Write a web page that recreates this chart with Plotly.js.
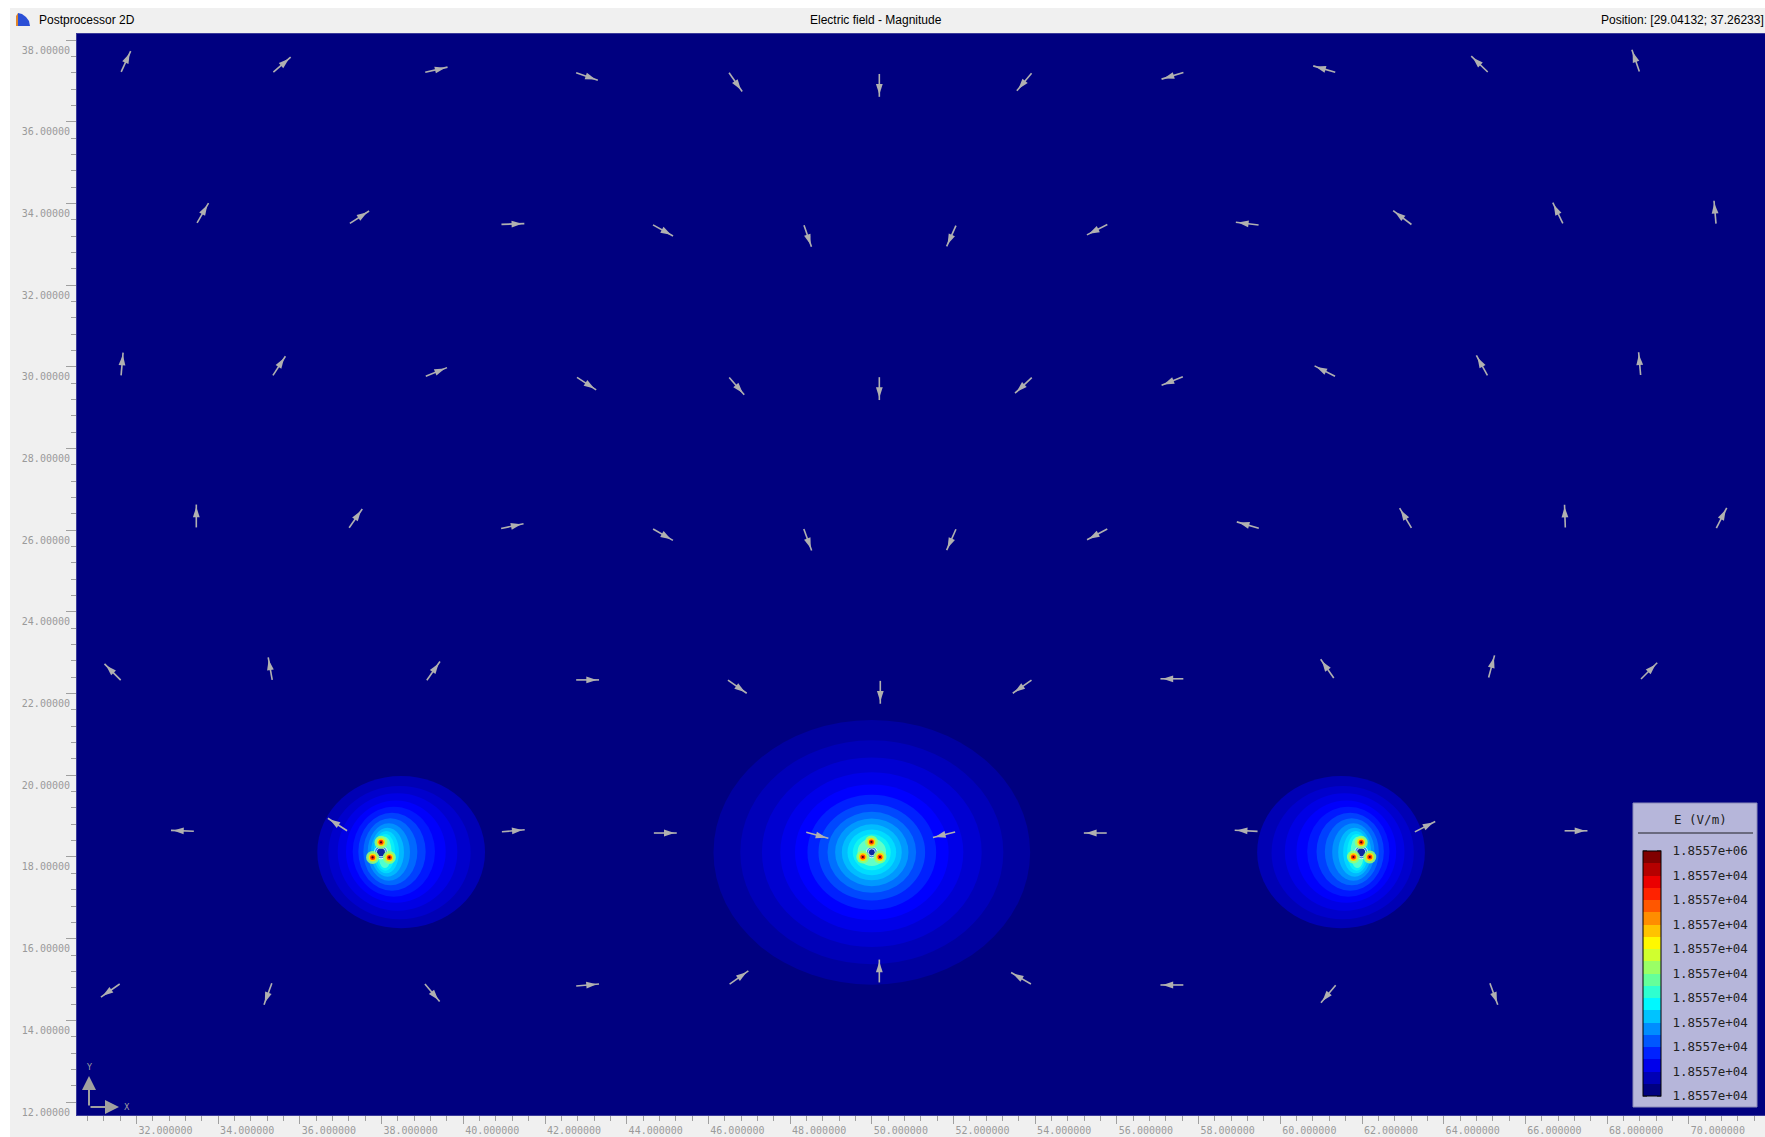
<!DOCTYPE html>
<html><head><meta charset="utf-8">
<script src="https://cdn.plot.ly/plotly-3.0.1.min.js"></script>
<style>html,body{margin:0;padding:0;background:#fff;}#chart{width:1765px;height:1137px;}</style>
</head><body><div id="chart"></div>
<script>
// ---------------- data ----------------
const headerLeft = 'Postprocessor 2D';
const headerTitle = 'Electric field - Magnitude';
const headerPosition = 'Position: [29.04132; 37.26233]';
const cursorX = 29.04132;
const cursorY = 37.26233;

// cable centres (three cables, three conductors each)
const cableX = [37.985, 50.0, 61.98];
const cableY = [18.115, 18.115, 18.115];
const condX = [37.985, 37.78, 38.19, 49.99, 49.78, 50.20, 61.98, 61.79, 62.19];
const condY = [18.36, 17.99, 17.99, 18.37, 18.0, 18.0, 18.36, 18.0, 18.0];

// field-magnitude band boundaries (ellipse extents, outermost first)
const leftBandX0 = [36.427, 36.696, 36.925, 37.129, 37.292, 37.430, 37.553, 37.659, 37.741, 37.806, 37.863, 37.912];
const leftBandX1 = [40.531, 40.180, 39.854, 39.569, 39.307, 39.079, 38.875, 38.695, 38.548, 38.426, 38.328, 38.246];
const sideBandY0 = [16.254, 16.474, 16.687, 16.882, 17.029, 17.176, 17.306, 17.420, 17.518, 17.600, 17.665, 17.731];
const sideBandY1 = [19.983, 19.738, 19.559, 19.380, 19.233, 19.085, 18.947, 18.824, 18.718, 18.637, 18.563, 18.498];
const rightBandX0 = [59.434, 59.785, 60.111, 60.396, 60.658, 60.886, 61.090, 61.270, 61.417, 61.539, 61.637, 61.719];
const rightBandX1 = [63.538, 63.269, 63.040, 62.836, 62.673, 62.535, 62.412, 62.306, 62.224, 62.159, 62.102, 62.053];
const midBandX0 = [46.124, 46.78, 47.31, 47.76, 48.12, 48.425, 48.694, 48.915, 49.102, 49.266, 49.404, 49.535, 49.649];
const midBandX1 = [53.876, 53.22, 52.69, 52.24, 51.88, 51.575, 51.306, 51.085, 50.898, 50.734, 50.596, 50.465, 50.351];
const midBandY0 = [14.875, 15.375, 15.795, 16.155, 16.455, 16.705, 16.935, 17.125, 17.285, 17.43, 17.555, 17.675, 17.78];
const midBandY1 = [21.355, 20.855, 20.435, 20.075, 19.775, 19.525, 19.295, 19.105, 18.945, 18.8, 18.675, 18.555, 18.45];
const sideBandColors = ['#0000b4','#0000cc','#0000e4','#0000fc','#0018ff','#0040ff','#0068ff','#0090ff','#00b8ff','#00d8ff','#08f0f8','#50ffd0'];
const midBandColors = ['#0000a0','#0000b8','#0000d0','#0000e8','#0000ff','#0020ff','#0048ff','#0070ff','#0098ff','#00bcff','#00dcff','#10f4f0','#60ffc8'];

// vector arrows: centre position and direction (degrees, counter-clockwise from +x)
const arrowX = [
 31.741, 35.562, 39.341, 43.028, 46.666, 50.184, 53.731, 57.361, 61.075, 64.876, 68.698,
 33.623, 37.459, 41.214, 44.889, 48.431, 51.946, 55.516, 59.190, 62.987, 66.793, 70.641,
 31.647, 35.493, 39.341, 43.018, 46.693, 50.184, 53.711, 57.354, 61.089, 64.935, 68.796,
 33.464, 37.366, 41.200, 44.889, 48.431, 51.946, 55.516, 59.204, 63.065, 66.967, 70.801,
 31.415, 35.273, 39.268, 43.043, 46.708, 50.208, 53.680, 57.346, 61.148, 65.172, 69.028,
 33.124, 36.920, 41.224, 44.945, 48.666, 51.768, 55.471, 59.163, 63.543, 67.239,
 31.359, 35.217, 39.241, 43.043, 46.749, 50.184, 53.653, 57.346, 61.175, 65.227
];
const arrowY = [
 37.474, 37.395, 37.273, 37.107, 36.967, 36.889, 36.974, 37.124, 37.290, 37.412, 37.496,
 33.765, 33.662, 33.496, 33.339, 33.202, 33.202, 33.356, 33.505, 33.652, 33.765, 33.785,
 30.069, 30.025, 29.875, 29.589, 29.528, 29.466, 29.545, 29.652, 29.895, 30.034, 30.078,
 26.348, 26.291, 26.100, 25.890, 25.767, 25.767, 25.897, 26.127, 26.299, 26.345, 26.299,
 22.529, 22.610, 22.556, 22.335, 22.169, 22.032, 22.169, 22.362, 22.610, 22.666, 22.556,
 18.641, 18.796, 18.641, 18.587, 18.531, 18.546, 18.587, 18.641, 18.742, 18.641,
 14.730, 14.646, 14.675, 14.867, 15.050, 15.209, 15.031, 14.867, 14.646, 14.646
];
const arrowDeg = [
 65.5, 41, 13, -19, -55, -90, -130, -163, 164, 136, 109,
 60, 33, 2, -29, -71, -114, -153, 173, 143, 116, 95,
 85, 57, 22, -33, -49, -90, -137, -158, 153, 119, 95,
 90, 55, 12, -30, -70, -114, -152, 164, 121, 92, 63,
 135, 100, 55, 0, -35, -90, -145, 180, 125, 75, 45,
 178, 147, 5, 0, -15, -166, 180, 177, 27, 0,
 -145, -110, -50, 5, 35, 90, 150, 180, -130, -70
];

// legend (scale) labels, bottom to top
const legendTitle = 'E (V/m)';
const legendTickVals = [0,1,2,3,4,5,6,7,8,9,10];
const legendTickText = ['1.8557e+04','1.8557e+04','1.8557e+04','1.8557e+04','1.8557e+04','1.8557e+04','1.8557e+04','1.8557e+04','1.8557e+04','1.8557e+04','1.8557e+06'];
const legendSteps = 20;

// ---------------- styling / helpers ----------------
const W = 1765, H = 1137, PL = 77, PT = 34, PW = 1688, PH = 1081;
const pxX = v => (v - PL) / PW;
const pxY = v => (PT + PH - v) / PH;
const ARROW_LEN = 0.56;
const arrowColor = '#b0b0b0';

function jet(t){
  const c = v => Math.round(255 * Math.max(0, Math.min(1, v)));
  return 'rgb(' + c(1.5 - Math.abs(4*t - 3)) + ',' + c(1.5 - Math.abs(4*t - 2)) + ',' + c(1.5 - Math.abs(4*t - 1)) + ')';
}
const stepScale = [];
for (let i = 0; i < legendSteps; i++) {
  const col = jet(i / (legendSteps - 1));
  stepScale.push([i / legendSteps, col]);
  stepScale.push([(i + 1) / legendSteps, col]);
}

function bandShapes(x0, x1, y0, y1, colors){
  return x0.map((v, i) => ({type:'circle', xref:'x', yref:'y', x0:v, x1:x1[i], y0:y0[i], y1:y1[i],
    fillcolor:colors[i], line:{width:0}, layer:'below'}));
}

// arrows
const lx = [], ly = [], hx = [], hy = [], hang = [];
arrowX.forEach((x, i) => {
  const a = arrowDeg[i] * Math.PI / 180, c = Math.cos(a), s = Math.sin(a), h = ARROW_LEN / 2;
  lx.push(x - h*c, x + h*c, null);
  ly.push(arrowY[i] - h*s, arrowY[i] + h*s, null);
  hx.push(x + 0.4*ARROW_LEN*c);
  hy.push(arrowY[i] + 0.4*ARROW_LEN*s);
  hang.push(90 - arrowDeg[i]);
});

const traces = [
  {type:'scatter', mode:'markers', x:cableX, y:cableY, hoverinfo:'skip',
   marker:{size:[13,11,13], color:'#1a5cff'}},
  {type:'scatter', mode:'markers', x:cableX, y:cableY, hoverinfo:'skip',
   marker:{size:[9,7,9], color:[0,0,0], colorscale:stepScale, cmin:0, cmax:10, showscale:true,
     colorbar:{x:pxX(1643), xanchor:'left', xpad:0, y:pxY(851), yanchor:'top', ypad:0,
       len:245, lenmode:'pixels', thickness:18, thicknessmode:'pixels',
       outlinecolor:'#000', outlinewidth:1, bgcolor:'rgba(0,0,0,0)', borderwidth:0,
       tickvals:legendTickVals, ticktext:legendTickText, ticks:'outside', ticklen:9, tickcolor:'rgba(0,0,0,0)',
       tickfont:{family:'DejaVu Sans Mono', size:12.5, color:'#222'}}}},
  {type:'scatter', mode:'markers', x:condX, y:condY, hoverinfo:'skip', marker:{size:13, color:'rgba(150,255,110,0.85)'}},
  {type:'scatter', mode:'markers', x:condX, y:condY, hoverinfo:'skip', marker:{size:8, color:'#ffdc00'}},
  {type:'scatter', mode:'markers', x:condX, y:condY, hoverinfo:'skip', marker:{size:5, color:'#ff3c00'}},
  {type:'scatter', mode:'markers', x:condX, y:condY, hoverinfo:'skip', marker:{size:2.2, color:'#400010'}},
  {type:'scatter', mode:'lines', x:lx, y:ly, hoverinfo:'skip', line:{color:arrowColor, width:1.6}},
  {type:'scatter', mode:'markers', x:hx, y:hy, hoverinfo:'skip',
   marker:{symbol:'arrow', size:11, angle:hang, color:arrowColor, line:{width:0}}},
  {type:'scatter', mode:'markers', x:[30.47, cursorX], y:[cursorY, 11.545], hoverinfo:'skip', cliponaxis:false,
   marker:{symbol:['triangle-right','triangle-up'], size:6, color:'#10a010'}}
];

const shapes = [].concat(
  bandShapes(leftBandX0, leftBandX1, sideBandY0, sideBandY1, sideBandColors),
  bandShapes(rightBandX0, rightBandX1, sideBandY0, sideBandY1, sideBandColors),
  bandShapes(midBandX0, midBandX1, midBandY0, midBandY1, midBandColors)
);
// window chrome
shapes.push({type:'rect', xref:'paper', yref:'paper', x0:pxX(0), x1:pxX(W), y0:pxY(8), y1:pxY(0), fillcolor:'#ffffff', line:{width:0}, layer:'below'});
shapes.push({type:'rect', xref:'paper', yref:'paper', x0:pxX(0), x1:pxX(10), y0:pxY(H), y1:pxY(0), fillcolor:'#ffffff', line:{width:0}, layer:'below'});
function pathPx(pts){ return 'M' + pts.map(p => pxX(p[0]).toFixed(5) + ',' + pxY(p[1]).toFixed(5)).join('L') + 'Z'; }
shapes.push({type:'path', xref:'paper', yref:'paper', path:pathPx([[18,26],[18,13],[22,14],[26,17],[29,21],[30,26]]), fillcolor:'#2b4fd6', line:{width:0}});
shapes.push({type:'path', xref:'paper', yref:'paper', path:pathPx([[16,26],[16,16],[18,13],[18,26]]), fillcolor:'#e0862a', line:{width:0}});
// legend box
shapes.push({type:'rect', xref:'paper', yref:'paper', x0:pxX(1633), x1:pxX(1757), y0:pxY(1107), y1:pxY(803), fillcolor:'#b6b6da', line:{color:'#8a8ab8', width:1}, layer:'above'});
shapes.push({type:'line', xref:'paper', yref:'paper', x0:pxX(1638), x1:pxX(1753), y0:pxY(833), y1:pxY(833), line:{color:'#505060', width:1.5}, layer:'above'});
legendTickVals.forEach(v => {
  const yy = 1096 - v * 24.5;
  shapes.push({type:'line', xref:'paper', yref:'paper', x0:pxX(1643), x1:pxX(1647), y0:pxY(yy), y1:pxY(yy), line:{color:'#000', width:1}, layer:'above'});
  shapes.push({type:'line', xref:'paper', yref:'paper', x0:pxX(1657), x1:pxX(1661), y0:pxY(yy), y1:pxY(yy), line:{color:'#000', width:1}, layer:'above'});
});

const hdrFont = {family:'Liberation Sans, Arial, sans-serif', size:12, color:'#000'};
const annotations = [
  {xref:'paper', yref:'paper', x:pxX(37), y:pxY(20), xanchor:'left', yanchor:'middle', text:headerLeft, showarrow:false, font:hdrFont},
  {xref:'paper', yref:'paper', x:pxX(876), y:pxY(20), xanchor:'center', yanchor:'middle', text:headerTitle, showarrow:false, font:hdrFont},
  {xref:'paper', yref:'paper', x:pxX(1599), y:pxY(20), xanchor:'left', yanchor:'middle', text:headerPosition, showarrow:false, font:hdrFont},
  {xref:'paper', yref:'paper', x:pxX(1700), y:pxY(819), xanchor:'center', yanchor:'middle', text:legendTitle, showarrow:false,
   font:{family:'DejaVu Sans Mono', size:12.5, color:'#222'}},
  // axis orientation glyph
  {xref:'paper', yref:'paper', x:pxX(89), y:pxY(1076), ax:0, ay:31, text:'', showarrow:true, arrowhead:2, arrowsize:1.4, arrowwidth:2, arrowcolor:'#a0a0a0'},
  {xref:'paper', yref:'paper', x:pxX(119), y:pxY(1107), ax:-30, ay:0, text:'', showarrow:true, arrowhead:2, arrowsize:1.4, arrowwidth:2, arrowcolor:'#a0a0a0'},
  {xref:'paper', yref:'paper', x:pxX(89), y:pxY(1067), xanchor:'center', yanchor:'middle', text:'Y', showarrow:false, font:{family:'DejaVu Sans', size:8, color:'#a0a0a0'}},
  {xref:'paper', yref:'paper', x:pxX(127), y:pxY(1107), xanchor:'center', yanchor:'middle', text:'X', showarrow:false, font:{family:'DejaVu Sans', size:8, color:'#a0a0a0'}}
];

const tickFont = {family:'DejaVu Sans Mono', size:10, color:'#9a9a9a'};
const layout = {
  width:W, height:H, margin:{l:PL, r:W-PL-PW, t:PT, b:H-PT-PH, pad:0},
  paper_bgcolor:'#f0f0f0', plot_bgcolor:'#000080', showlegend:false,
  xaxis:{range:[30.5435, 71.865], tick0:0, dtick:2, tickformat:'.6f', ticks:'outside', ticklen:8, tickwidth:1, tickcolor:'#a0a0a0',
    showgrid:false, zeroline:false, showline:true, linecolor:'#3a3a9a', linewidth:1, mirror:true,
    tickfont:tickFont, ticklabelshift:29, ticklabelstandoff:-2, fixedrange:true,
    minor:{dtick:0.4, ticks:'outside', ticklen:5, tickwidth:1, tickcolor:'#a0a0a0', showgrid:false}},
  yaxis:{range:[11.684, 38.147], tick0:0, dtick:2, tickformat:'.5f', ticks:'outside', ticklen:10, tickwidth:1, tickcolor:'#a0a0a0',
    showgrid:false, zeroline:false, showline:true, linecolor:'#3a3a9a', linewidth:1, mirror:true,
    tickfont:tickFont, ticklabelshift:10, ticklabelstandoff:-6, fixedrange:true,
    minor:{dtick:0.4, ticks:'outside', ticklen:5, tickwidth:1, tickcolor:'#a0a0a0', showgrid:false}},
  shapes:shapes, annotations:annotations
};

Plotly.newPlot('chart', traces, layout, {staticPlot:true, displayModeBar:false});
</script></body></html>
